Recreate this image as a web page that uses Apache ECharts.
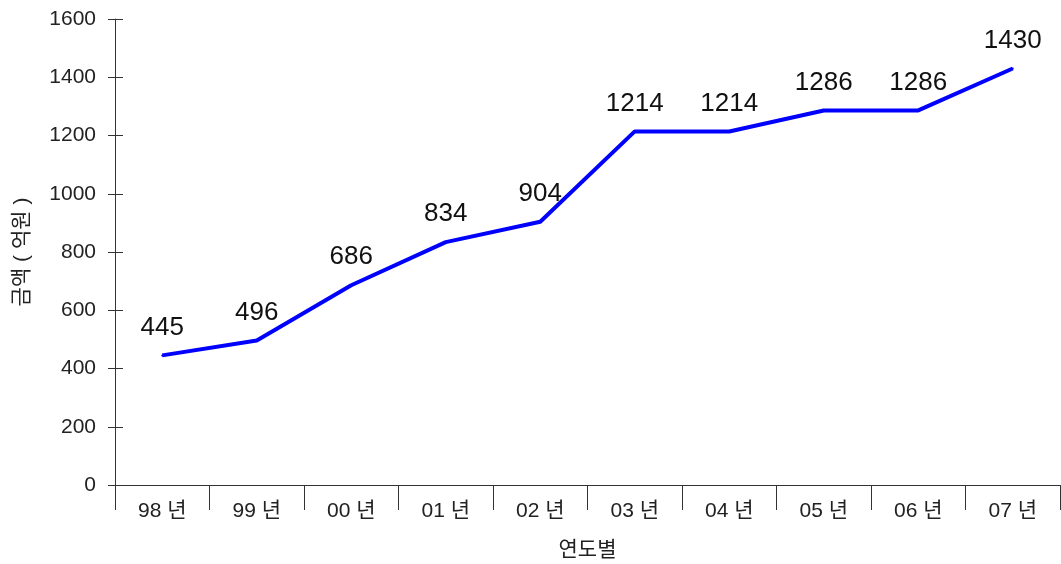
<!DOCTYPE html>
<html>
<head>
<meta charset="utf-8">
<script src="https://cdn.jsdelivr.net/npm/echarts@6/dist/echarts.min.js"></script>
<style>html,body{margin:0;padding:0;background:#fff}#c{width:1061px;height:564px}</style>
</head>
<body>
<div id="c"></div>
<script>
const categories = ['98 년','99 년','00 년','01 년','02 년','03 년','04 년','05 년','06 년','07 년'];
const amounts = [445, 496, 686, 834, 904, 1214, 1214, 1286, 1286, 1430];
const yMin = 0, yMax = 1600, yStep = 200;
const FONT = '"Liberation Sans", "Noto Sans CJK KR", sans-serif';
const chart = echarts.init(document.getElementById('c'));
chart.setOption({
  animation: false,
  grid: {left: 115, right: 1, top: 19, bottom: 79, containLabel: false, outerBoundsMode: 'none'},
  xAxis: {
    type: 'category', data: categories, boundaryGap: true,
    name: '연도별', nameLocation: 'middle', nameGap: 55,
    nameTextStyle: {fontFamily: FONT, fontSize: 21, color: '#222'},
    axisLine: {lineStyle: {color: '#333', width: 1}},
    axisTick: {show: true, length: 25, alignWithLabel: false, lineStyle: {color: '#333'}},
    axisLabel: {fontFamily: FONT, fontSize: 21, color: '#222', margin: 16}
  },
  yAxis: [{
    type: 'value', min: yMin, max: yMax, interval: yStep,
    name: '금액 ( 억원 )', nameLocation: 'middle', nameGap: 82, nameRotate: 90,
    nameTextStyle: {fontFamily: FONT, fontSize: 21, color: '#222'},
    axisLine: {show: true, lineStyle: {color: '#333', width: 1}},
    axisTick: {show: true, length: 7, lineStyle: {color: '#333'}},
    splitLine: {show: false},
    axisLabel: {fontFamily: FONT, fontSize: 21, color: '#222', margin: 19, formatter: v => String(v)}
  }, {
    type: 'value', min: yMin, max: yMax, interval: yStep, position: 'left',
    axisLine: {show: false},
    axisTick: {show: true, inside: true, length: 8, lineStyle: {color: '#333'}},
    splitLine: {show: false}, axisLabel: {show: false}
  }],
  series: [{
    type: 'line', data: amounts, yAxisIndex: 0,
    showSymbol: true, symbol: 'circle', symbolSize: 2,
    itemStyle: {color: '#0000FF', borderWidth: 0},
    lineStyle: {color: '#0000FF', width: 4},
    label: {show: true, position: 'top', distance: 14, fontFamily: FONT, fontSize: 26, color: '#111'}
  }]
});
</script>
</body>
</html>
